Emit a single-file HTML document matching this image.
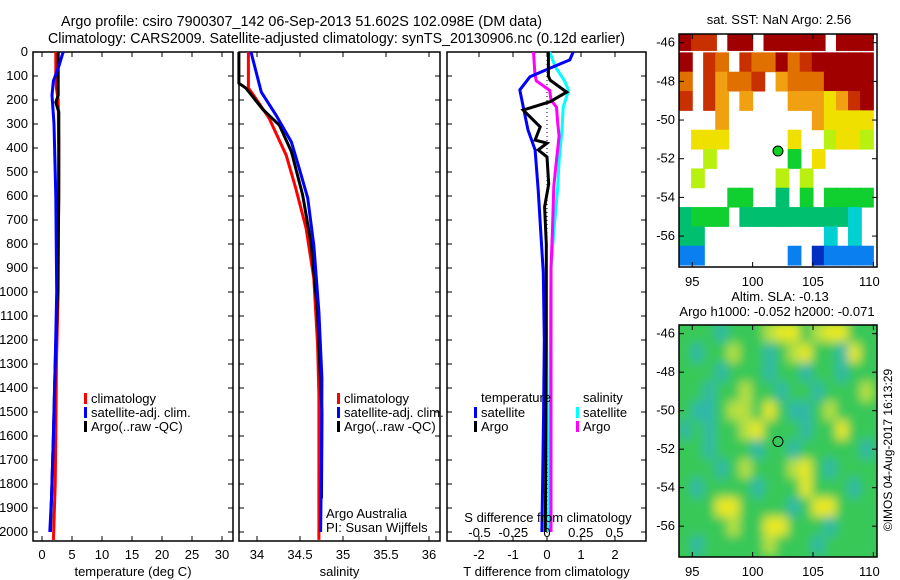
<!DOCTYPE html>
<html><head><meta charset="utf-8"><style>
html,body{margin:0;padding:0;background:#fff;}
svg{display:block;font-family:"Liberation Sans",sans-serif;}
text{fill:#000;}
</style></head><body>
<svg id="c" width="900" height="580" viewBox="0 0 900 580">
<text x="61" y="26" font-size="15" textLength="481" lengthAdjust="spacingAndGlyphs">Argo profile: csiro 7900307_142 06-Sep-2013 51.602S 102.098E (DM data)</text>
<text x="48" y="43" font-size="15" textLength="577" lengthAdjust="spacingAndGlyphs">Climatology: CARS2009. Satellite-adjusted climatology: synTS_20130906.nc (0.12d earlier)</text>
<g id="plots"></g>
<text x="779" y="24" font-size="13" text-anchor="middle">sat. SST: NaN Argo: 2.56</text>
<text x="780" y="301" font-size="13" text-anchor="middle">Altim. SLA: -0.13</text>
<text x="777" y="316" font-size="13" text-anchor="middle">Argo h1000: -0.052 h2000: -0.071</text>
<text transform="translate(892,450) rotate(-90)" font-size="12" text-anchor="middle">©IMOS 04-Aug-2017 16:13:29</text>
</svg>
<script>
// ---- data ----
const depthTick = [0,100,200,300,400,500,600,700,800,900,1000,1100,1200,1300,1400,1500,1600,1700,1800,1900,2000];
const tempTicks = [0,5,10,15,20,25,30];
const salTicks = [34,34.5,35,35.5,36];
const tdiffTicks = [-2,-1,0,1,2];
const sdiffTicks = [-0.5,-0.25,0,0.25,0.5];
// temperature profiles [depth, value]
const tempClim = [[0,2.3],[100,2.3],[150,2.4],[200,2.7],[400,2.8],[1000,2.7],[1300,2.4],[1600,2.3],[1800,2.2],[2033,1.9]];
const tempSat = [[0,3.55],[10,3.4],[60,2.8],[120,1.9],[180,1.67],[300,2.0],[600,2.3],[1000,2.45],[1300,2.2],[1600,1.9],[1850,1.6],[2000,1.3]];
const tempArgo = [[0,2.7],[180,2.7],[210,2.3],[250,2.8],[600,2.8],[1000,2.6],[1300,2.2],[1600,1.9],[1850,1.6],[2000,1.4]];
// salinity profiles
const salClim = [[0,33.9],[150,33.9],[180,33.96],[275,34.14],[430,34.34],[567,34.45],[733,34.57],[942,34.66],[1220,34.705],[1430,34.72],[2033,34.72]];
const salSat = [[0,33.93],[83,33.99],[167,34.05],[262,34.22],[375,34.40],[483,34.49],[608,34.59],[804,34.66],[1083,34.72],[1358,34.755],[1700,34.75],[2000,34.74]];
const salArgo = [[0,33.79],[130,33.79],[150,33.87],[240,34.07],[305,34.26],[415,34.40],[595,34.53],[800,34.63],[1085,34.705],[1500,34.755],[1860,34.75]];
// difference profiles
const tdiffSat = [[0,0.77],[33,0.67],[67,0.09],[103,-0.5],[158,-0.8],[228,-0.7],[325,-0.56],[408,-0.35],[575,-0.26],[712,-0.2],[921,-0.11],[1200,-0.08],[1500,-0.1],[1800,-0.13],[2000,-0.15]];
const tdiffArgo = [[0,0.04],[100,0.04],[117,0.09],[167,0.58],[207,0.09],[242,-0.7],[312,-0.2],[367,-0.35],[380,0],[408,-0.26],[437,0],[550,0.05],[646,-0.07],[800,-0.02],[1200,-0.02],[1600,-0.03],[2000,-0.05]];
const sdiffArgo = [[0,-0.10],[90,-0.09],[120,-0.08],[160,0.02],[200,0.03],[230,0.07],[300,0.08],[350,0.09],[450,0.07],[560,0.05],[750,0.04],[900,0.03],[1500,0.03],[2000,0.03]];
const sdiffSat = [[0,0.02],[60,0.06],[120,0.13],[160,0.16],[230,0.12],[330,0.11],[450,0.09],[560,0.08],[750,0.05],[900,0.03],[1500,0.02],[2000,0.01]];
// map grids (1 deg cells, lon 94..110, lat -45.5 downward)
const sstRows = [
"DRR.DD.DDDDD.DDD",
"D.RO.ROODORDDDDD",
"O.RoOOR.oOOODDDD",
"R.Ro.o...oooYoRD",
"...o.......oYYYY",
".YYY.....Y..LYYL",
"..L......G.Y....",
".L......L.L.....",
"....GG..g.G.GGGG",
"gGGG.gggggggggC.",
"gg..........C.C.",
"BB.......B.NBBBB"];
const slaRows = [
"gggcgggyYYgyYYgg",
"gcggyggcgyYggcYg",
"gggcgggcggcggcgg",
"ggcggyggcggcgggy",
"gccgyygYgccgyggg",
"cgcggyYgggcggYgg",
"ggcgggcggcgggggc",
"gggcgygggyYgcggg",
"gcggggcgggYgggcg",
"gggYYggggcgYYggg",
"ggggyggYYgggcggg",
"gcgggggygggcgggg"];
const sstColor = {D:"#a00000",R:"#c83000",O:"#e07000",o:"#f0a010",Y:"#f0e000",L:"#b8f010",G:"#10d030",g:"#00c070",C:"#00d0d0",B:"#0a80f0",N:"#0030c0"};
const slaColor = {g:"#38c858",c:"#30b8a8",y:"#b8e040",Y:"#e8e820"};
const argoLon = 102.098, argoLat = -51.602;

// ---- drawing ----
const NS="http://www.w3.org/2000/svg";
const root=document.getElementById('plots');
function mk(tag,attrs,parent){const e=document.createElementNS(NS,tag);for(const k in attrs)e.setAttribute(k,attrs[k]);(parent||root).appendChild(e);return e;}
const Y0=52, PX_M=0.24, YB=541;
const yD=d=>Y0+d*PX_M;
const panels=[
 {x0:33,x1:233,sx:v=>42+v*6,ticks:tempTicks,title:"temperature (deg C)",name:"temperature"},
 {x0:239,x1:440,sx:v=>257+(v-34)*86,ticks:salTicks,title:"salinity",name:"salinity"},
 {x0:447,x1:646,sx:v=>547+v*34,ticks:tdiffTicks,title:"T difference from climatology",name:"difference"}
];
panels.forEach((p,i)=>{
  const g=mk('g',{});
  
  
  const r=mk('rect',{x:p.x0,y:Y0,width:p.x1-p.x0,height:YB-Y0,fill:'none',stroke:'#000','stroke-width':1.5},g);
  
  
  p.ticks.forEach(v=>{
    const x=p.sx(v);
    mk('line',{x1:x,x2:x,y1:YB,y2:YB-5,stroke:'#000'},g);
    mk('line',{x1:x,x2:x,y1:Y0,y2:Y0+5,stroke:'#000'},g);
    const t=mk('text',{x:x,y:YB+18,'font-size':13,'text-anchor':'middle'},g);
    t.textContent=String(v);
    
    
  });
  depthTick.forEach(d=>{
    mk('line',{x1:p.x0,x2:p.x0+5,y1:yD(d),y2:yD(d),stroke:'#000'},g);
    mk('line',{x1:p.x1,x2:p.x1-5,y1:yD(d),y2:yD(d),stroke:'#000'},g);
  });
  const tt=mk('text',{x:(p.x0+p.x1)/2,y:576,'font-size':13,'text-anchor':'middle'},g);
  tt.textContent=p.title;
  
  
});
depthTick.forEach(d=>{
  const t=mk('text',{x:28,y:yD(d)+4,'font-size':13,'text-anchor':'end'});
  t.textContent=String(d);
  
  
});
function line(data,sx,color,name,w){
  const pts=data.map(([d,v])=>sx(v).toFixed(1)+','+yD(d).toFixed(1)).join(' ');
  const e=mk('polyline',{points:pts,fill:'none',stroke:color,'stroke-width':w||3,'stroke-linejoin':'miter'});
  
  
}
const P=panels;
line(tempClim,P[0].sx,'#ff0000','temp-climatology-line');
line(tempArgo,P[0].sx,'#000000','temp-argo-line');
line(tempSat,P[0].sx,'#0000ff','temp-satellite-line');
line(salClim,P[1].sx,'#ff0000','sal-climatology-line');
line(salArgo,P[1].sx,'#000000','sal-argo-line');
line(salSat,P[1].sx,'#0000ff','sal-satellite-line');
const sdx=v=>547+v*135;
mk('line',{x1:547,x2:547,y1:Y0,y2:YB,stroke:'#000','stroke-dasharray':'1,3'});
line(sdiffSat,sdx,'#00ffff','sdiff-satellite-line');
line(sdiffArgo,sdx,'#ff00ff','sdiff-argo-line');
line(tdiffSat,P[2].sx,'#0000ff','tdiff-satellite-line');
line(tdiffArgo,P[2].sx,'#000000','tdiff-argo-line');
sdiffTicks.forEach(v=>{
  const t=mk('text',{x:sdx(v),y:537,'font-size':13,'text-anchor':'middle'});
  t.textContent=String(v);
  
  
});
const sdt=mk('text',{x:548,y:522,'font-size':13,'text-anchor':'middle'});
sdt.textContent='S difference from climatology';


function legend(x,y,color,label,name){
  const r=mk('rect',{x:x,y:y-9,width:3,height:11,fill:color});
  
  
  const t=mk('text',{x:x+7,y:y+1,'font-size':13});
  t.textContent=label;
  
  
}
[[84,'temp-legend'],[337,'sal-legend']].forEach(([x,n])=>{
  legend(x,402,'#ff0000','climatology',n+'-climatology');
  legend(x,416,'#0000ff','satellite-adj. clim.',n+'-satellite');
  legend(x,430,'#000000','Argo(..raw -QC)',n+'-argo');
});
let th=mk('text',{x:481,y:402,'font-size':13});th.textContent='temperature';

th=mk('text',{x:583,y:402,'font-size':13});th.textContent='salinity';

legend(474,416,'#0000ff','satellite','tdiff-legend-satellite');
legend(474,430,'#000000','Argo','tdiff-legend-argo');
legend(576,416,'#00ffff','satellite','sdiff-legend-satellite');
legend(576,430,'#ff00ff','Argo','sdiff-legend-argo');
let at=mk('text',{x:326,y:518,'font-size':13});at.textContent='Argo Australia';

at=mk('text',{x:326,y:532,'font-size':13});at.textContent='PI: Susan Wijffels';


// maps
const LON0=93.9,LON1=110.3,LAT0=-45.55,LAT1=-57.6;
function drawMap(top,bot,rows,colors,name,blur,dotFill){
  const L=679,R=877;
  const mx=lon=>L+(lon-LON0)/(LON1-LON0)*(R-L);
  const my=lat=>top+(LAT0-lat)/(LAT0-LAT1)*(bot-top);
  const g=mk('g',{});
  
  
  const cid=name+'-clip';
  const defs=mk('defs',{},g);
  const cp=mk('clipPath',{id:cid},defs);
  mk('rect',{x:L,y:top,width:R-L,height:bot-top},cp);
  if(blur){const f=mk('filter',{id:name+'-blur',x:'-10%',y:'-10%',width:'120%',height:'120%'},defs);mk('feGaussianBlur',{stdDeviation:blur},f);}
  const cg=mk('g',{'clip-path':'url(#'+cid+')'},g);
  if(blur) mk('rect',{x:L,y:top,width:R-L,height:bot-top,fill:colors.g},cg);
  const inner=mk('g',blur?{filter:'url(#'+name+'-blur)'}:{},cg);
  rows.forEach((row,ri)=>{
    for(let ci=0;ci<row.length;ci++){
      const ch=row[ci]; if(!colors[ch])continue;
      const lon=94+ci, lat=-45.5-ri;
      const c=mk('rect',{x:mx(lon-0.1),y:my(lat+ (ri===0?0.1:0)),width:mx(lon+1)-mx(lon-0.1)+0.5,height:my(lat-1)-my(lat)+0.5,fill:colors[ch]},inner);
      
      
    }
  });
  const fr=mk('rect',{x:L,y:top,width:R-L,height:bot-top,fill:'none',stroke:'#000','stroke-width':1.5},g);
  
  [-46,-48,-50,-52,-54,-56].forEach(lat=>{
    mk('line',{x1:L,x2:L+5,y1:my(lat),y2:my(lat),stroke:'#000'},g);
    mk('line',{x1:R,x2:R-5,y1:my(lat),y2:my(lat),stroke:'#000'},g);
    const t=mk('text',{x:L-4,y:my(lat)+4,'font-size':13,'text-anchor':'end'},g);
    t.textContent=String(lat);
    
  });
  [95,100,105,110].forEach(lon=>{
    mk('line',{x1:mx(lon),x2:mx(lon),y1:top,y2:top+5,stroke:'#000'},g);
    mk('line',{x1:mx(lon),x2:mx(lon),y1:bot,y2:bot-5,stroke:'#000'},g);
    const t=mk('text',{x:mx(lon)-(lon===110?4:0),y:bot+19,'font-size':13,'text-anchor':'middle'},g);
    t.textContent=String(lon);
    
  });
  const d=mk('circle',{cx:mx(argoLon),cy:my(argoLat),r:5,fill:dotFill,stroke:'#000','stroke-width':1},g);
  
}
drawMap(34,267,sstRows,sstColor,'sst-map',0,'#10d020');
drawMap(325,557,slaRows,slaColor,'sla-map',5,'none');
</script>
</body></html>
